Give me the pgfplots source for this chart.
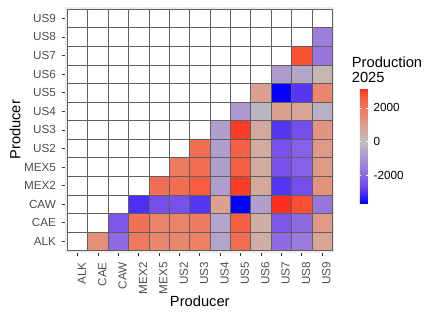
\documentclass[border=0pt]{standalone}
\usepackage{fontspec}
\setmainfont{Liberation Sans}
\usepackage{pgfplots}
\pgfplotsset{compat=1.18}
\usepackage{pgfplotstable}
\definecolor{bggray}{RGB}{235,235,235}
\definecolor{cellb}{RGB}{95,95,95}
\definecolor{ticklab}{RGB}{77,77,77}
\definecolor{tickc}{RGB}{51,51,51}
\pgfdeclareplotmark{cell}{\pgfpathrectangle{\pgfpoint{-10.1894bp}{-9.2992bp}}{\pgfpoint{20.3788bp}{18.5985bp}}\pgfusepathqfillstroke}
\newcommand\tickf{\fontsize{11.7bp}{14bp}\selectfont}
\newcommand\titlef{\fontsize{14.7bp}{17bp}\selectfont}

% colored cells: x index, y index, production value
\pgfplotstableread{
x y v
1 0 1400
2 0 -1900
3 0 1900
4 0 1600
5 0 1600
6 0 1800
7 0 -600
8 0 2200
9 0 500
10 0 -1900
11 0 -1500
12 0 800
2 1 -2300
3 1 2100
4 1 1700
5 1 1700
6 1 1900
7 1 -600
8 1 2500
9 1 500
10 1 -2300
11 1 -1900
12 1 1100
3 2 -3000
4 2 -2500
5 2 -2400
6 2 -2900
7 2 900
8 2 -3640
9 2 -700
10 2 3160
11 2 2800
12 2 -1600
4 3 2200
5 3 2200
6 3 2600
7 3 -700
8 3 3000
9 3 700
10 3 -2900
11 3 -2500
12 3 1300
5 4 1900
6 4 2200
7 4 -700
8 4 2500
9 4 600
10 4 -2400
11 4 -2100
12 4 1100
6 5 2200
7 5 -700
8 5 2500
9 5 600
10 5 -2400
11 5 -2100
12 5 1100
7 6 -700
8 6 3000
9 6 650
10 6 -2900
11 6 -2500
12 6 1250
8 7 -900
9 7 -200
10 7 900
11 7 750
12 7 -300
9 8 900
10 8 -3600
11 8 -2900
12 8 1600
10 9 -800
11 9 -550
12 9 250
11 10 2800
12 10 -1600
12 11 -1450
}\cells

\begin{document}
\begin{tikzpicture}
\path[use as bounding box] (-65.3bp,-64.4bp) rectangle (380.7bp,252.6bp);
\begin{axis}[
  at={(0,0)}, anchor=south west,
  scale only axis, width=269bp, height=245.5bp,
  xmin=-0.6, xmax=12.6, ymin=-0.6, ymax=12.6,
  xtick={0,...,12}, ytick={0,...,12},
  xticklabels={ALK,CAE,CAW,MEX2,MEX5,US2,US3,US4,US5,US6,US7,US8,US9},
  yticklabels={ALK,CAE,CAW,MEX2,MEX5,US2,US3,US4,US5,US6,US7,US8,US9},
  axis line style={draw=none},
  axis background/.style={fill=bggray},
  grid=major, major grid style={white, line width=1bp},
  tick align=outside, tick pos=left, major tick length=3.7bp,
  tick style={tickc, line width=0.7bp},
  xticklabel style={rotate=90, anchor=north east, inner xsep=5.7bp, inner ysep=0pt, font=\tickf, text=ticklab},
  yticklabel style={anchor=east, inner xsep=5.5bp, inner ysep=0pt, font=\tickf, text=ticklab},
  colormap={prod}{rgb255(0pt)=(0,0,255) rgb255(9.1pt)=(107,67,240) rgb255(18.2pt)=(146,109,225) rgb255(27.3pt)=(172,150,208) rgb255(36.4pt)=(190,190,190) rgb255(45.5pt)=(219,160,144) rgb255(54.6pt)=(237,127,100) rgb255(63.7pt)=(249,87,56) rgb255(68pt)=(252,46,30)},
  point meta min=-3640, point meta max=3160,
  colorbar,
  colorbar style={
    at={(parent axis.south west)}, anchor=south west,
    xshift=286bp, yshift=49.3bp,
    scale only axis, width=8bp, height=115bp,
    axis line style={draw=none},
    ytick={-2000,0,2000}, yticklabels={-2000,0,2000},
    ytick pos=both, yticklabel pos=right,
    major tick length=1.6bp, tick style={white, line width=0.6bp}, tick align=inside,
    yticklabel style={anchor=west, inner xsep=5.7bp, inner ysep=0pt, font=\tickf, text=black},
  },
  clip=false,
]
\addplot[only marks, mark=cell, mark options={draw=cellb, fill=white, line width=0.5bp}] coordinates {
(0,0)
(0,1)(1,1)
(0,2)(1,2)(2,2)
(0,3)(1,3)(2,3)(3,3)
(0,4)(1,4)(2,4)(3,4)(4,4)
(0,5)(1,5)(2,5)(3,5)(4,5)(5,5)
(0,6)(1,6)(2,6)(3,6)(4,6)(5,6)(6,6)
(0,7)(1,7)(2,7)(3,7)(4,7)(5,7)(6,7)(7,7)
(0,8)(1,8)(2,8)(3,8)(4,8)(5,8)(6,8)(7,8)(8,8)
(0,9)(1,9)(2,9)(3,9)(4,9)(5,9)(6,9)(7,9)(8,9)(9,9)
(0,10)(1,10)(2,10)(3,10)(4,10)(5,10)(6,10)(7,10)(8,10)(9,10)(10,10)
(0,11)(1,11)(2,11)(3,11)(4,11)(5,11)(6,11)(7,11)(8,11)(9,11)(10,11)(11,11)
(0,12)(1,12)(2,12)(3,12)(4,12)(5,12)(6,12)(7,12)(8,12)(9,12)(10,12)(11,12)(12,12)
};
\addplot[scatter, only marks, mark=cell, scatter src=explicit,
  scatter/use mapped color={draw=cellb, fill=mapped color},
  mark options={line width=0.5bp}] table[x=x, y=y, meta=v] {\cells};
\end{axis}
\node[anchor=base, font=\titlef] at (134.5bp,-54.1bp) {Producer};
\node[rotate=90, anchor=base, font=\titlef] at (-45bp,122.75bp) {Producer};
\node[anchor=base west, font=\titlef, inner sep=0pt] at (286.4bp,184.9bp) {Production};
\node[anchor=base west, font=\titlef, inner sep=0pt] at (286.4bp,169.9bp) {2025};
\end{tikzpicture}
\end{document}
